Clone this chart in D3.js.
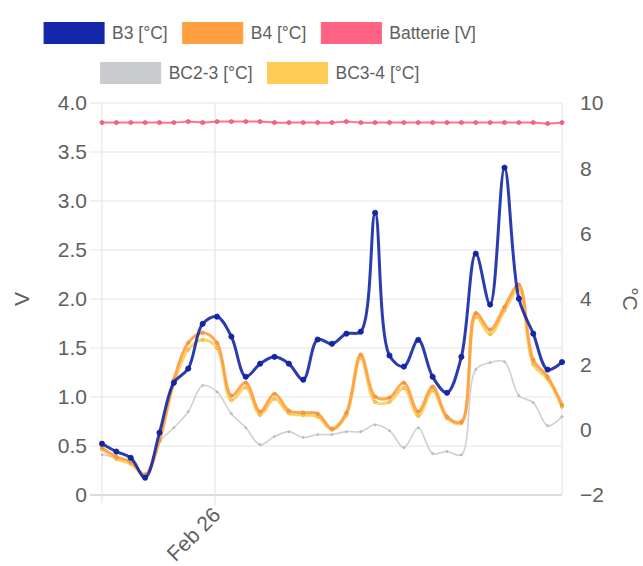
<!DOCTYPE html>
<html>
<head>
<meta charset="utf-8">
<script src="https://cdn.jsdelivr.net/npm/d3@7"></script>
<style>
  html, body { margin: 0; padding: 0; background: #fff; }
  svg { display: block; font-family: "Liberation Sans", Arial, Helvetica, sans-serif; }
</style>
</head>
<body>
<svg id="chart" width="643" height="566"></svg>
<script>
// ---------- DATA ----------
const times = [
  "2019-02-25T18:06","2019-02-25T18:51","2019-02-25T19:36","2019-02-25T20:21","2019-02-25T21:06",
  "2019-02-25T21:51","2019-02-25T22:36","2019-02-25T23:21","2019-02-26T00:06","2019-02-26T00:51",
  "2019-02-26T01:36","2019-02-26T02:21","2019-02-26T03:06","2019-02-26T03:51","2019-02-26T04:36",
  "2019-02-26T05:21","2019-02-26T06:06","2019-02-26T06:51","2019-02-26T07:36","2019-02-26T08:21",
  "2019-02-26T09:06","2019-02-26T09:51","2019-02-26T10:36","2019-02-26T11:21","2019-02-26T12:06",
  "2019-02-26T12:51","2019-02-26T13:36","2019-02-26T14:21","2019-02-26T15:06","2019-02-26T15:51",
  "2019-02-26T16:36","2019-02-26T17:21","2019-02-26T18:06"
];
const b3 = [-0.43,-0.67,-0.86,-1.47,-0.09,1.44,1.87,3.24,3.46,2.85,1.62,2.02,2.23,2.02,1.53,2.76,2.63,
            2.94,3.00,6.64,2.27,1.93,2.75,1.62,1.13,2.23,5.39,3.83,8.02,4.01,2.94,1.84,2.07];
const b4 = [-0.55,-0.83,-0.98,-1.38,-0.31,1.53,2.66,2.97,2.66,1.04,1.44,0.55,1.10,0.58,0.52,0.49,0.03,
            0.52,2.30,1.01,0.98,1.44,0.55,1.32,0.40,0.24,3.57,3.06,3.76,4.44,2.14,1.62,0.76];
const batterie = [3.80,3.80,3.80,3.80,3.80,3.80,3.81,3.80,3.81,3.81,3.81,3.81,3.80,3.80,3.80,3.80,3.80,
                  3.81,3.80,3.80,3.80,3.80,3.80,3.80,3.80,3.80,3.80,3.80,3.80,3.80,3.80,3.79,3.80];
const bc23 = [-0.77,-0.86,-0.98,-1.35,-0.37,0.06,0.55,1.35,1.16,0.49,0.06,-0.46,-0.21,-0.06,-0.24,-0.15,-0.15,
              -0.06,-0.06,0.15,-0.03,-0.55,0.06,-0.73,-0.67,-0.77,1.84,2.05,2.08,1.04,0.83,0.12,0.40];
const bc34 = [-0.60,-0.90,-1.05,-1.40,-0.35,1.40,2.45,2.75,2.50,0.90,1.30,0.45,0.95,0.50,0.45,0.40,0.00,
              0.45,2.20,0.85,0.85,1.28,0.42,1.20,0.35,0.20,3.45,2.92,3.65,4.30,2.00,1.55,0.70];

const seriesNames = ["B3 [°C]","B4 [°C]","Batterie [V]","BC2-3 [°C]","BC3-4 [°C]"];
const leftTicks = [0,0.5,1.0,1.5,2.0,2.5,3.0,3.5,4.0];
const rightTicks = [-2,0,2,4,6,8,10];
const xTickDates = ["2019-02-26T00:00"];
const xTickLabels = ["Feb 26"];
const leftTitle = "V";
const rightTitle = "°C";

// ---------- LAYOUT ----------
const W = 643, H = 566;
const plot = {left: 102, right: 562, top: 103, bottom: 495};
const colors = {
  "B3 [°C]": "#1427aa",
  "B4 [°C]": "#ff9f40",
  "Batterie [V]": "#ff6384",
  "BC2-3 [°C]": "#c9cbcf",
  "BC3-4 [°C]": "#ffcd56"
};
const textColor = "#606060";
const gridColor = "#e6e6e6";

const svg = d3.select("#chart");
const parse = d3.isoParse;
const dates = times.map(parse);

const x = d3.scaleTime().domain(d3.extent(dates)).range([plot.left, plot.right]);
const yL = d3.scaleLinear().domain([0, 4]).range([plot.bottom, plot.top]);
const yR = d3.scaleLinear().domain([-2, 10]).range([plot.bottom, plot.top]);

// grid lines (horizontal from left axis)
const grid = svg.append("g");
grid.selectAll("line.h").data(leftTicks).join("line")
  .attr("x1", plot.left - 12).attr("x2", plot.right)
  .attr("y1", d => yL(d)).attr("y2", d => yL(d))
  .attr("stroke", d => d === 0 ? "#d0d0d0" : gridColor).attr("stroke-width", d => d === 0 ? 1.5 : 1.2);
// vertical grid lines
grid.append("line").attr("x1", plot.left).attr("x2", plot.left)
  .attr("y1", plot.top).attr("y2", plot.bottom + 8).attr("stroke", gridColor).attr("stroke-width", 1.2);
grid.selectAll("line.v").data(xTickDates.map(parse)).join("line")
  .attr("x1", d => x(d)).attr("x2", d => x(d))
  .attr("y1", plot.top).attr("y2", plot.bottom + 10).attr("stroke", gridColor).attr("stroke-width", 1.2);
grid.append("line").attr("x1", plot.right).attr("x2", plot.right)
  .attr("y1", plot.top).attr("y2", plot.bottom).attr("stroke", gridColor).attr("stroke-width", 1.2);

// axes labels via d3 axes
const fmtL = d => d === 0 ? "0" : d3.format(".1f")(d);
const gL = svg.append("g").attr("transform", `translate(${plot.left - 12},0)`)
  .call(d3.axisLeft(yL).tickValues(leftTicks).tickFormat(fmtL).tickSize(0).tickPadding(3));
const gR = svg.append("g").attr("transform", `translate(${plot.right},0)`)
  .call(d3.axisRight(yR).tickValues(rightTicks).tickSize(0).tickPadding(18));
const gX = svg.append("g").attr("transform", `translate(0,${plot.bottom})`)
  .call(d3.axisBottom(x).tickValues(xTickDates.map(parse)).tickFormat((d, i) => xTickLabels[i]).tickSize(0));
[gL, gR, gX].forEach(g => {
  g.select(".domain").remove();
  g.selectAll("text").attr("fill", textColor).style("font-size", "21px");
});
gX.selectAll("text")
  .attr("text-anchor", "end")
  .attr("dy", "0.35em").attr("y", 0)
  .attr("transform", "translate(1,16) rotate(-45)");

// axis titles
svg.append("text").attr("transform", `translate(22,${(plot.top + plot.bottom) / 2}) rotate(-90)`)
  .attr("text-anchor", "middle").attr("dy", "0.35em").attr("fill", textColor)
  .style("font-size", "21px").text(leftTitle);
svg.append("text").attr("transform", `translate(630,${(plot.top + plot.bottom) / 2}) rotate(90)`)
  .attr("text-anchor", "middle").attr("dy", "0.35em").attr("fill", textColor)
  .style("font-size", "21px").text(rightTitle);

// ---------- SERIES ----------
const series = [
  {name: "B3 [°C]", values: b3, scale: yR, width: 3, r: 2.6},
  {name: "B4 [°C]", values: b4, scale: yR, width: 3, r: 1.6},
  {name: "Batterie [V]", values: batterie, scale: yL, width: 2, r: 2},
  {name: "BC2-3 [°C]", values: bc23, scale: yR, width: 1.6, r: 1.0},
  {name: "BC3-4 [°C]", values: bc34, scale: yR, width: 3, r: 1.6}
];

const plotG = svg.append("g");
// draw in reverse so first dataset is on top
series.slice().reverse().forEach(s => {
  const line = d3.line()
    .x((d, i) => x(dates[i]))
    .y(d => s.scale(d))
    .curve(d3.curveCatmullRom.alpha(0.5));
  const g = plotG.append("g");
  g.append("path").datum(s.values)
    .attr("d", line).attr("fill", "none")
    .attr("stroke", colors[s.name]).attr("stroke-width", s.width)
    .attr("stroke-linejoin", "round").attr("stroke-linecap", "round")
    .attr("opacity", 0.9);
  g.selectAll("circle").data(s.values).join("circle")
    .attr("cx", (d, i) => x(dates[i])).attr("cy", d => s.scale(d))
    .attr("r", s.r).attr("fill", colors[s.name])
    .attr("stroke", d3.color(colors[s.name]).darker(0.4)).attr("stroke-width", 0.8);
});

// ---------- LEGEND ----------
const rows = [[0, 1, 2], [3, 4]];
const rowY = [33, 73];
const legendCenter = 260;
const boxW = 60, boxH = 21, gapBT = 8, gapItem = 15;
const legend = svg.append("g");
rows.forEach((row, ri) => {
  const rg = legend.append("g");
  let cx = 0;
  row.forEach(idx => {
    const name = seriesNames[idx];
    rg.append("rect").attr("x", cx).attr("y", rowY[ri] - boxH / 2)
      .attr("width", boxW).attr("height", boxH)
      .attr("fill", colors[name]).attr("stroke", colors[name]).attr("stroke-width", 1);
    const t = rg.append("text").attr("x", cx + boxW + gapBT).attr("y", rowY[ri])
      .attr("dy", "0.35em").attr("fill", textColor).style("font-size", "17.5px").text(name);
    cx += boxW + gapBT + t.node().getComputedTextLength() + gapItem;
  });
  const total = cx - gapItem;
  rg.attr("transform", `translate(${legendCenter - total / 2},0)`);
});
</script>
</body>
</html>
